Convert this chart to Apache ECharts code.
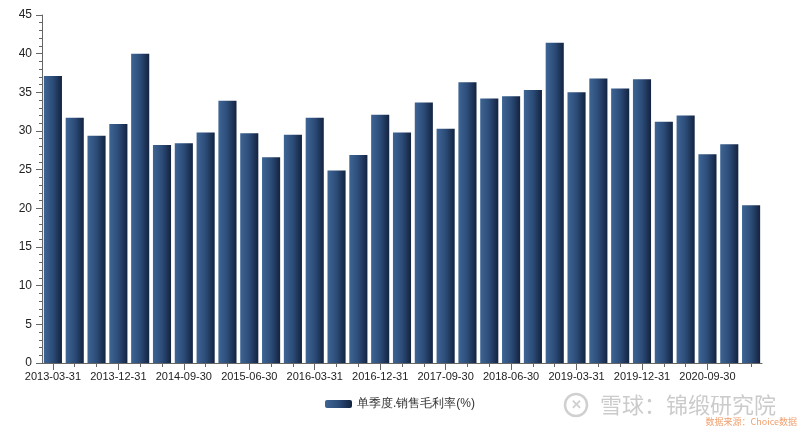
<!DOCTYPE html>
<html><head><meta charset="utf-8">
<script src="https://cdn.jsdelivr.net/npm/echarts@6/dist/echarts.min.js"></script>
<style>html,body{margin:0;padding:0;background:#fff;overflow:hidden}#c{width:800px;height:428px}</style>
</head><body><div id="c"></div>
<script>
const categories = ["2013-03-31","2013-06-30","2013-09-30","2013-12-31","2014-03-31","2014-06-30","2014-09-30","2014-12-31","2015-03-31","2015-06-30","2015-09-30","2015-12-31","2016-03-31","2016-06-30","2016-09-30","2016-12-31","2017-03-31","2017-06-30","2017-09-30","2017-12-31","2018-03-31","2018-06-30","2018-09-30","2018-12-31","2019-03-31","2019-06-30","2019-09-30","2019-12-31","2020-03-31","2020-06-30","2020-09-30","2020-12-31","2021-03-31"];
const grossMargin = [37.1,31.7,29.4,30.9,40.0,28.2,28.4,29.8,33.9,29.7,26.6,29.5,31.7,24.9,26.9,32.1,29.8,33.7,30.3,36.3,34.2,34.5,35.3,41.4,35.0,36.8,35.5,36.7,31.2,32.0,27.0,28.3,20.4];
const seriesName = "单季度.销售毛利率(%)";
const yTicks = [0,5,10,15,20,25,30,35,40,45];

const chart = echarts.init(document.getElementById('c'), null, {renderer:'canvas'});
const grad = new echarts.graphic.LinearGradient(0,0,1,0,[
  {offset:0,color:'#3e6595'},{offset:0.5,color:'#2c4c78'},{offset:1,color:'#132340'}]);
const axisCol = '#666';
const font = 'Liberation Sans, Arial, sans-serif';
chart.setOption({
  animation:false,
  grid:{left:42,right:38,top:15,bottom:65},
  legend:{top:393,left:'center',itemWidth:27,itemHeight:8,itemGap:8,
    textStyle:{color:'#333',fontSize:12,fontFamily:font},data:[seriesName]},
  xAxis:[{
    type:'category',data:categories,
    axisLine:{lineStyle:{color:axisCol,width:1}},
    axisTick:{show:true,interval:0,alignWithLabel:true,length:4,lineStyle:{color:axisCol}},
    axisLabel:{interval:2,color:'#222',fontSize:11,fontFamily:font,margin:8},
    splitLine:{show:false}
  },{
    type:'category',data:categories,position:'bottom',
    axisLine:{show:false},
    axisTick:{show:true,interval:2,alignWithLabel:true,length:7,lineStyle:{color:axisCol}},
    axisLabel:{show:false},splitLine:{show:false}
  }],
  yAxis:{
    type:'value',min:yTicks[0],max:yTicks[yTicks.length-1],interval:5,
    axisLine:{show:true,lineStyle:{color:axisCol}},
    axisTick:{show:true,inside:false,length:6,lineStyle:{color:axisCol}},
    minorTick:{show:true,splitNumber:5,length:3,lineStyle:{color:axisCol}},
    axisLabel:{color:'#222',fontSize:12,fontFamily:font,margin:10},
    splitLine:{show:false}
  },
  series:[{
    name:seriesName,type:'bar',data:grossMargin,barCategoryGap:'17%',
    itemStyle:{color:grad}
  }],
  graphic:[
    {type:'circle',shape:{cx:576,cy:405,r:11},style:{fill:'none',stroke:'#d0d0d0',lineWidth:2.5}},
    {type:'text',style:{x:576,y:405,text:'✕',fill:'#d0d0d0',font:'bold 13px sans-serif',textAlign:'center',textVerticalAlign:'middle'}},
    {type:'text',style:{x:776,y:405,text:'雪球：锦缎研究院',fill:'#cbcbcb',font:'22px "Noto Sans CJK SC"',textAlign:'right',textVerticalAlign:'middle'}},
    {type:'text',style:{x:797,y:422,text:'数据来源：Choice数据',fill:'#f0a070',font:'9px "Noto Sans CJK SC"',textAlign:'right',textVerticalAlign:'middle'}}
  ]
});
</script></body></html>
